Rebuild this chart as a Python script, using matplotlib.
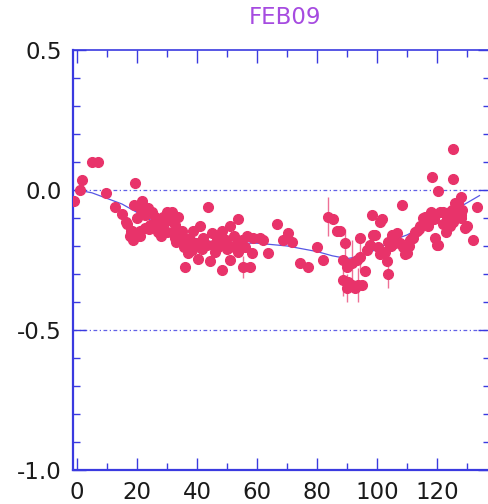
import numpy as np
import matplotlib
matplotlib.use("Agg")
import matplotlib.pyplot as plt
from matplotlib.ticker import MultipleLocator

# measured points
day = [-1.0, 1.0, 1.7, 5.0, 7.0, 9.7, 12.7, 15.0, 16.3, 16.7, 18.0, 17.7, 18.7, 18.3,
       19.3, 19.0, 20.0, 21.3, 19.7, 21.0, 21.0, 22.7, 21.7, 23.7, 25.0, 26.0, 27.7,
       28.7, 30.0, 31.7, 33.7, 31.0, 26.0, 27.7, 30.0, 32.0, 32.7, 34.3, 36.0, 36.7,
       38.3, 37.0, 36.0, 38.7, 41.0, 43.7, 45.0, 46.7, 48.3, 51.0, 53.7, 48.7, 51.0,
       53.3, 55.0, 56.0, 48.3, 51.0, 55.3, 57.7, 58.3, 58.7, 61.0, 62.0, 63.7, 66.7,
       68.7, 70.3, 71.7, 74.3, 77.0, 80.0, 82.0, 83.7, 85.3, 86.7, 87.7, 89.3, 88.7,
       90.0, 88.7, 90.3, 90.0, 91.7, 92.7, 93.7, 95.0, 91.7, 93.3, 94.3, 94.3, 96.0,
       96.7, 98.3, 99.3, 100.3, 101.7, 101.0, 102.7, 103.3, 103.7, 105.0, 106.7, 108.3,
       107.7, 108.7, 110.0, 111.0, 112.0, 113.3, 114.3, 115.3, 116.7, 117.7, 118.7,
       119.3, 120.3, 118.3, 120.3, 121.7, 123.3, 124.3, 125.0, 125.3, 125.3, 126.7,
       127.7, 128.3, 127.7, 130.0, 131.7, 133.3,
       101.0, 98.7, 97.7, 103.7, 105.3, 109.3, 111.7, 112.7, 116.0, 119.3, 121.0,
       123.3, 124.3, 125.3, 122.7, 120.0, 126.0, 127.7, 129.3,
       22.7, 24.3, 27.0, 29.3, 32.7, 35.0, 37.7, 39.7, 42.0, 43.3, 45.3, 47.0, 49.7,
       52.3, 53.7, 56.7, 40.3, 44.3,
       24.0, 28.0, 33.0, 35.5, 39.0, 41.5, 46.0, 50.0, 104.5, 106.0, 110.5, 114.0,
       117.0, 122.0, 125.8]
resid = [-0.04, 0.00, 0.035, 0.10, 0.10, -0.01, -0.06, -0.085, -0.115, -0.12, -0.145,
         -0.165, -0.18, -0.145, 0.025, -0.055, -0.10, -0.07, -0.155, -0.165, -0.145,
         -0.135, -0.04, -0.065, -0.08, -0.095, -0.105, -0.095, -0.08, -0.08, -0.095,
         -0.105, -0.12, -0.135, -0.15, -0.155, -0.17, -0.18, -0.17, -0.195, -0.215,
         -0.225, -0.275, -0.145, -0.13, -0.06, -0.155, -0.17, -0.145, -0.13, -0.105,
         -0.19, -0.205, -0.19, -0.18, -0.205, -0.285, -0.25, -0.275, -0.275, -0.225,
         -0.17, -0.17, -0.18, -0.225, -0.12, -0.18, -0.155, -0.185, -0.26, -0.275,
         -0.205, -0.25, -0.095, -0.105, -0.145, -0.145, -0.19, -0.25, -0.275, -0.32,
         -0.33, -0.35, -0.34, -0.35, -0.34, -0.34, -0.26, -0.25, -0.17, -0.24, -0.29,
         -0.215, -0.09, -0.16, -0.205, -0.105, -0.23, -0.22, -0.255, -0.30, -0.16,
         -0.155, -0.055, -0.19, -0.205, -0.225, -0.18, -0.17, -0.145, -0.13, -0.10,
         -0.13, -0.08, -0.105, -0.17, -0.195, 0.045, -0.005, -0.08, -0.105, -0.13,
         -0.07, 0.145, 0.04, -0.045, -0.025, -0.07, -0.10, -0.13, -0.18, -0.06,
         -0.115, -0.16, -0.195, -0.185, -0.16, -0.23, -0.17, -0.15, -0.095, -0.09,
         -0.08, -0.09, -0.08, -0.115, -0.15, -0.195, -0.045, -0.09, -0.135,
         -0.09, -0.125, -0.15, -0.115, -0.125, -0.145, -0.18, -0.19, -0.17, -0.195,
         -0.195, -0.205, -0.18, -0.165, -0.22, -0.165, -0.245, -0.255,
         -0.14, -0.165, -0.185, -0.205, -0.2, -0.21, -0.22, -0.21, -0.2, -0.19,
         -0.2, -0.14, -0.12, -0.12, -0.1]

# points with visible error bars
err_day = [55.3, 83.7, 89.3, 88.7, 90.0, 91.7, 93.7, 103.7, 94.3]
err_resid = [-0.275, -0.095, -0.19, -0.32, -0.35, -0.26, -0.34, -0.30, -0.24]
err_size = [0.04, 0.07, 0.05, 0.06, 0.05, 0.08, 0.06, 0.05, 0.05]

# smooth trend
trend_day = [0, 5, 10, 15, 20, 25, 30, 35, 40, 45, 50, 55, 60, 65, 70, 75, 80, 85,
             90, 95, 100, 105, 110, 115, 120, 125, 130, 134]
trend_resid = [0.0, -0.01, -0.03, -0.05, -0.08, -0.11, -0.14, -0.16, -0.175, -0.185,
               -0.19, -0.19, -0.19, -0.195, -0.20, -0.21, -0.22, -0.235, -0.245,
               -0.235, -0.21, -0.18, -0.16, -0.13, -0.10, -0.075, -0.045, -0.02]

blue = "#3a3ae0"
red = "#e8336a"

fig = plt.figure(figsize=(4.89, 5.04), dpi=100)
ax = fig.add_axes([73 / 489, 1 - 470 / 504, 417 / 489, 420 / 504])

ax.axhline(0.0, color=blue, lw=0.9, ls=(0, (3, 2, 1, 2)), alpha=0.8, zorder=1)
ax.axhline(-0.5, color=blue, lw=0.9, ls=(0, (3, 2, 1, 2)), alpha=0.8, zorder=1)

ax.plot(trend_day, trend_resid, color=blue, lw=0.9, alpha=0.85, zorder=2)
ax.errorbar(err_day, err_resid, yerr=err_size, fmt="none", ecolor=red, elinewidth=1,
            alpha=0.7, zorder=3)
ax.plot(day, resid, "o", color=red, ms=7, mec=red, zorder=4)

ax.set_xlim(-1.3, 137.5)
ax.set_ylim(-1.0, 0.5)
ax.xaxis.set_major_locator(MultipleLocator(20))
ax.xaxis.set_minor_locator(MultipleLocator(10))
ax.yaxis.set_major_locator(MultipleLocator(0.5))
ax.yaxis.set_minor_locator(MultipleLocator(0.1))
ax.tick_params(which="both", direction="in", colors=blue, top=True, right=True,
               labelcolor="#1a1a1a", labelsize=16.5, pad=8)
ax.tick_params(which="major", length=9, width=1)
ax.tick_params(which="minor", length=5, width=1)
ax.yaxis.set_major_formatter(plt.FuncFormatter(lambda v, p: "%.1f" % v))

for side in ["left", "bottom"]:
    ax.spines[side].set_color(blue)
    ax.spines[side].set_linewidth(1.6)
for side in ["top", "right"]:
    ax.spines[side].set_color(blue)
    ax.spines[side].set_linewidth(1.2)

fig.text(285 / 489, 1 - 18 / 504, "FEB09", color="#a64be0", fontsize=16.5,
         ha="center", va="center")

fig.savefig("out.png", dpi=100)
